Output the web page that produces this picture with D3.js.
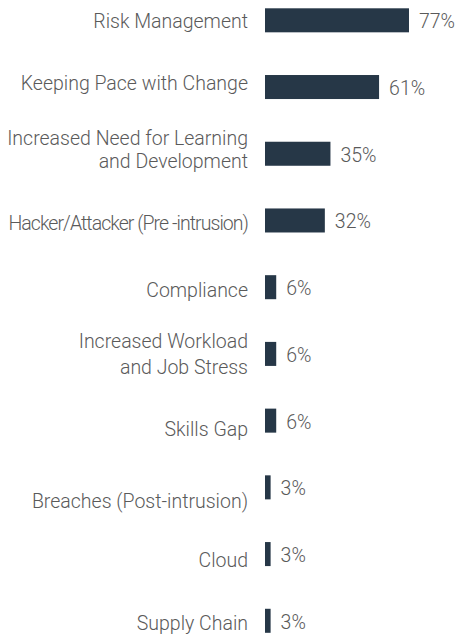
<!DOCTYPE html>
<html>
<head>
<meta charset="utf-8">
<script src="https://cdn.jsdelivr.net/npm/d3@7"></script>
<style>
  html, body { margin: 0; padding: 0; background: #ffffff; }
  svg { display: block; }
  .cat, .val { font-family: Roboto, "Liberation Sans", sans-serif; font-weight: 300; fill: #5a5a5a; }
</style>
</head>
<body>
<svg id="chart" width="465" height="635"></svg>
<script>
// Share of respondents naming each concern (percent)
const categories = [
  "Risk Management",
  "Keeping Pace with Change",
  "Increased Need for Learning\nand Development",
  "Hacker/Attacker (Pre -intrusion)",
  "Compliance",
  "Increased Workload\nand Job Stress",
  "Skills Gap",
  "Breaches (Post-intrusion)",
  "Cloud",
  "Supply Chain"
];
const values = [77, 61, 35, 32, 6, 6, 6, 3, 3, 3];
const valueLabels = ["77%", "61%", "35%", "32%", "6%", "6%", "6%", "3%", "3%", "3%"];

// Hand-set typesetting of the category labels: first baseline relative to the
// bar centre, and the gap between lines of a wrapped label.
const labelBaseline = [7.7, 3, -8.5, 10, 9.7, -6, 15.7, 21, 13, 9];
const labelLineGap = [0, 0, 22.5, 0, 0, 26, 0, 0, 0, 0];
const labelTracking = [0, 0, 0, -0.95, 0, 0, 0, 0, 0, 0];

const svg = d3.select("#chart");
const barX0 = 265;
const labelRight = 248;
const fontSize = 19.5;

const x = d3.scaleLinear().domain([0, 100]).range([0, 187]);
const y = d3.scaleBand()
  .domain(categories)
  .range([8.3, 632.8])
  .paddingInner(0.64)
  .paddingOuter(0);

const rows = categories.map((c, i) => ({
  cat: c, value: values[i], label: valueLabels[i],
  dy: labelBaseline[i], gap: labelLineGap[i], track: labelTracking[i]
}));

// Bars
svg.append("g").selectAll("rect")
  .data(rows)
  .join("rect")
  .attr("x", barX0)
  .attr("y", d => y(d.cat))
  .attr("width", d => x(d.value))
  .attr("height", y.bandwidth())
  .attr("fill", "#263747");

// Category labels, right-aligned against the bars
const cat = svg.append("g").selectAll("text")
  .data(rows)
  .join("text")
  .attr("class", "cat")
  .attr("text-anchor", "end")
  .attr("font-size", fontSize)
  .attr("letter-spacing", d => d.track)
  .attr("y", d => y(d.cat) + y.bandwidth() / 2 + d.dy);

cat.selectAll("tspan")
  .data(d => d.cat.split("\n").map((line, k) => ({ line, k, gap: d.gap })))
  .join("tspan")
  .attr("x", labelRight)
  .attr("dy", d => d.k === 0 ? 0 : d.gap)
  .text(d => d.line);

// Value labels at the end of each bar
svg.append("g").selectAll("text")
  .data(rows)
  .join("text")
  .attr("class", "val")
  .attr("font-size", fontSize)
  .attr("x", d => barX0 + x(d.value) + 10)
  .attr("y", d => y(d.cat) + y.bandwidth() / 2 + 8)
  .text(d => d.label);
</script>
</body>
</html>
